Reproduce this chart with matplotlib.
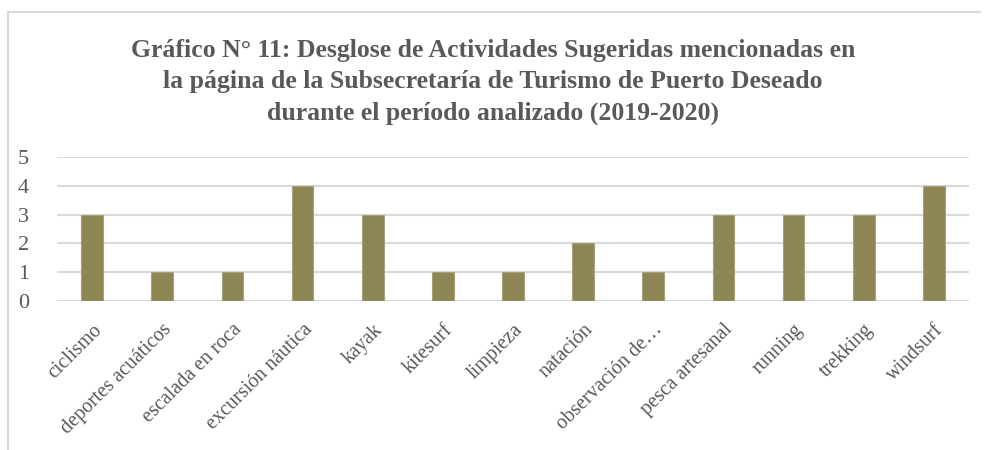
import matplotlib.pyplot as plt
from matplotlib.lines import Line2D

# datos del gráfico
actividades = ['ciclismo', 'deportes acuáticos', 'escalada en roca', 'excursión náutica',
               'kayak', 'kitesurf', 'limpieza', 'natación', 'observación de…',
               'pesca artesanal', 'running', 'trekking', 'windsurf']
menciones = [3, 1, 1, 4, 3, 1, 1, 2, 1, 3, 3, 3, 4]
valores_y = [0, 1, 2, 3, 4, 5]

titulo = ('Gráfico N° 11: Desglose de Actividades Sugeridas mencionadas en\n'
          'la página de la Subsecretaría de Turismo de Puerto Deseado\n'
          'durante el período analizado (2019-2020)')

gris = '#595959'
plt.rcParams['font.family'] = ['Liberation Serif', 'DejaVu Serif']

fig = plt.figure(figsize=(9.86, 4.5), dpi=100)

# marco del gráfico (solo arriba e izquierda visibles)
fig.add_artist(Line2D([8 / 986, 8 / 986], [0, 1 - 12 / 450], transform=fig.transFigure,
                      color='#D9D9D9', lw=1.5))
fig.add_artist(Line2D([8 / 986, 980 / 986], [1 - 12 / 450, 1 - 12 / 450],
                      transform=fig.transFigure, color='#D9D9D9', lw=1.5))

ax = fig.add_axes([57 / 986, 1 - 301 / 450, 912 / 986, 144 / 450])

x = range(len(actividades))
ax.bar(x, menciones, width=0.31, color='#8F8656', edgecolor='#A8A07A', linewidth=0.8,
       zorder=3)

ax.set_xlim(-0.5, len(actividades) - 0.5)
ax.set_ylim(0, 5)
ax.set_yticks(valores_y)
ax.grid(axis='y', color='#D9D9D9', linewidth=1.5, zorder=0)
for s in ax.spines.values():
    s.set_visible(False)

ax.tick_params(axis='y', length=0, pad=20, labelsize=16, labelcolor=gris)
ax.tick_params(axis='x', length=0, pad=14, labelsize=14.5, labelcolor=gris)
ax.set_xticks(list(x))
ax.set_xticklabels(actividades, rotation=45, ha='right', rotation_mode='anchor')

fig.text(0.5, 1 - 82 / 450, titulo, ha='center', va='center', fontsize=18.5,
         fontweight='bold', color=gris, linespacing=1.45)

fig.savefig('out.png', dpi=100)
